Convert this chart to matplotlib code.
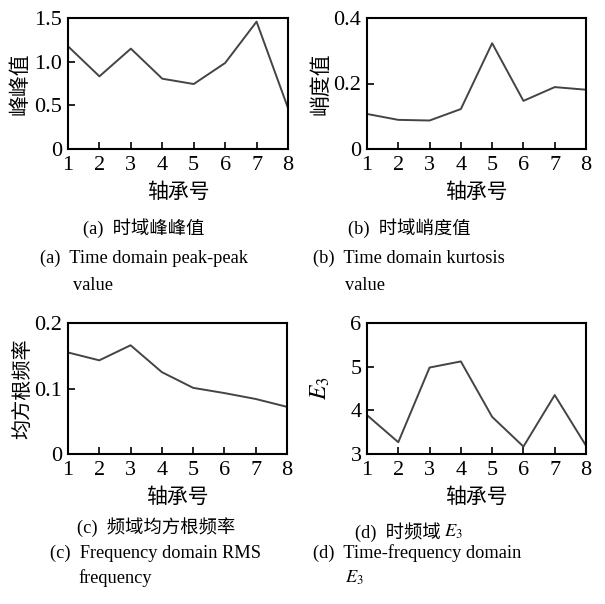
import matplotlib
matplotlib.use('Agg')
import matplotlib.pyplot as plt

plt.rcParams['font.family'] = ['Liberation Serif', 'Noto Sans CJK SC']
plt.rcParams['mathtext.fontset'] = 'stix'

# Dados
mancais = [1, 2, 3, 4, 5, 6, 7, 8]
pico_pico = [1.176, 0.832, 1.149, 0.805, 0.744, 0.985, 1.458, 0.469]
curtose = [0.107, 0.089, 0.087, 0.122, 0.323, 0.147, 0.189, 0.181]
rms_freq = [0.155, 0.143, 0.166, 0.125, 0.101, 0.093, 0.084, 0.072]
e3 = [3.89, 3.27, 4.98, 5.12, 3.85, 3.17, 4.35, 3.19]

W, H = 605, 604
fig = plt.figure(figsize=(W / 100, H / 100), dpi=100)


def eixo(x0, y0, x1, y1):
    return fig.add_axes([x0 / W, 1 - y1 / H, (x1 - x0) / W, (y1 - y0) / H])


def painel(ax, y, ylim, yticks, yticklabels, ylabel, ylabel_x, larg, fs=15):
    ax.plot(mancais, y, color='#444444', lw=1.4)
    ax.set_xlim(1, 8)
    ax.set_ylim(*ylim)
    ax.set_xticks(mancais)
    ax.set_yticks(yticks)
    ax.set_yticklabels(yticklabels)
    ax.tick_params(direction='in', length=5, width=1.2, labelsize=16)
    ax.tick_params(axis='x', pad=5)
    ax.tick_params(axis='y', pad=4)
    for s in ax.spines.values():
        s.set_linewidth(1.5)
    ax.set_xlabel('轴承号', fontsize=15, family='Noto Sans CJK SC', labelpad=4)
    ax.set_ylabel(ylabel, fontsize=fs)
    # posição do rótulo y em pixels (borda direita do texto girado)
    ax.yaxis.set_label_coords((ylabel_x - larg[0]) / larg[1], 0.5)


ax_a = eixo(68, 18, 288, 149)
painel(ax_a, pico_pico, (0, 1.5), [0, 0.5, 1.0, 1.5], ['0', '0.5', '1.0', '1.5'],
       '峰峰值', 31, (68, 220))

ax_b = eixo(367, 18, 586, 149)
painel(ax_b, curtose, (0, 0.4), [0, 0.2, 0.4], ['0', '0.2', '0.4'],
       '峭度值', 331, (367, 219))

ax_c = eixo(68, 323, 287, 454)
painel(ax_c, rms_freq, (0, 0.2), [0, 0.1, 0.2], ['0', '0.1', '0.2'],
       '均方根频率', 33, (68, 219), fs=14.5)

ax_d = eixo(367, 323, 586, 454)
painel(ax_d, e3, (3, 6), [3, 4, 5, 6], ['3', '4', '5', '6'],
       '$E_3$', 332, (367, 219), fs=17)


def legenda(x, y, s):
    fig.text(x / W, 1 - y / H, s, fontsize=13.2, ha='left', va='center')


legenda(83, 228, '(a)  时域峰峰值')
legenda(40, 258, '(a)  Time domain peak-peak')
legenda(73, 285, 'value')

legenda(348, 228, '(b)  时域峭度值')
legenda(313, 258, '(b)  Time domain kurtosis')
legenda(345, 285, 'value')

legenda(77, 527, '(c)  频域均方根频率')
legenda(50, 553, '(c)  Frequency domain RMS')
legenda(78, 578, 'frequency')

legenda(355, 532, '(d)  时频域')
legenda(444, 532, '$E_3$')
legenda(313, 553, '(d)  Time-frequency domain')
legenda(345, 578, '$E_3$')

plt.savefig('out.png', dpi=100)
plt.close()
